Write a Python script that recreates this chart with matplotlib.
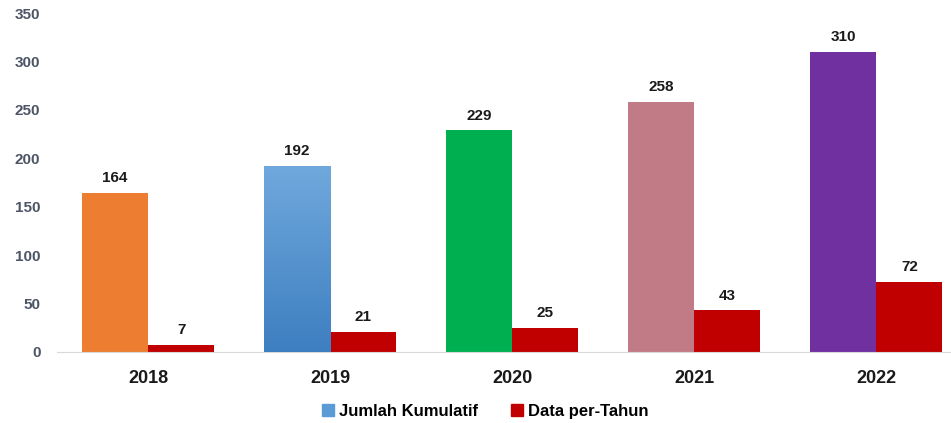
import matplotlib.pyplot as plt
import numpy as np
from matplotlib.patches import Patch
from matplotlib.colors import LinearSegmentedColormap

tahun = ["2018", "2019", "2020", "2021", "2022"]
kumulatif = [164, 192, 229, 258, 310]
per_tahun = [7, 21, 25, 43, 72]
warna_kumulatif = ["#ED7D31", "#5B9BD5", "#00B050", "#C07B86", "#7030A0"]
warna_tahun = "#C00000"

plt.rcParams['font.family'] = ['Liberation Sans', 'DejaVu Sans']

fig = plt.figure(figsize=(9.51, 4.23), dpi=100)
ax = fig.add_axes([0.06, 0.168, 0.94, 0.801])

x = np.arange(len(tahun))
w = 0.3626

bars1 = ax.bar(x - w / 2, kumulatif, w, color=warna_kumulatif, zorder=2)
bars2 = ax.bar(x + w / 2, per_tahun, w, color=warna_tahun, zorder=2)

# gradient on the blue bar (2019)
b = bars1[1]
grad = LinearSegmentedColormap.from_list("g", ["#3E7FC1", "#6FA8DC"])
bx, by = b.get_x(), b.get_y()
img = ax.imshow(np.linspace(0, 1, 100).reshape(-1, 1), cmap=grad, origin="lower",
                extent=[bx, bx + b.get_width(), by, by + b.get_height()],
                aspect="auto", zorder=3)
img.set_clip_path(b)
b.set_facecolor("none")

for bar, v in zip(list(bars1) + list(bars2), kumulatif + per_tahun):
    ax.text(bar.get_x() + bar.get_width() / 2, v + 8, str(v), ha="center", va="bottom",
            fontsize=11, fontweight="bold", color="#1a1a1a")

ax.set_xlim(-0.5, 4.41)
ax.set_ylim(0, 350)
ax.set_yticks(range(0, 351, 50))
ax.set_xticks(x)
ax.set_xticklabels(tahun, fontsize=13, fontweight="bold", color="#1a1a1a")
for t in ax.get_yticklabels():
    t.set_fontsize(11)
    t.set_fontweight("bold")
    t.set_color("#4d5566")
ax.tick_params(length=0)
ax.tick_params(axis="x", pad=13)
ax.tick_params(axis="y", pad=12)
for s in ["top", "right", "left"]:
    ax.spines[s].set_visible(False)
ax.spines["bottom"].set_color("#d9d9d9")

handles = [Patch(color="#5B9BD5", label="Jumlah Kumulatif"),
           Patch(color=warna_tahun, label="Data per-Tahun")]
fig.legend(handles=handles, loc="center", bbox_to_anchor=(0.51, 0.028), ncol=2,
           frameon=False, handlelength=0.7, handleheight=0.7, handletextpad=0.3,
           columnspacing=2.0, prop={"size": 12, "weight": "bold"})

fig.savefig("out.png", dpi=100)
